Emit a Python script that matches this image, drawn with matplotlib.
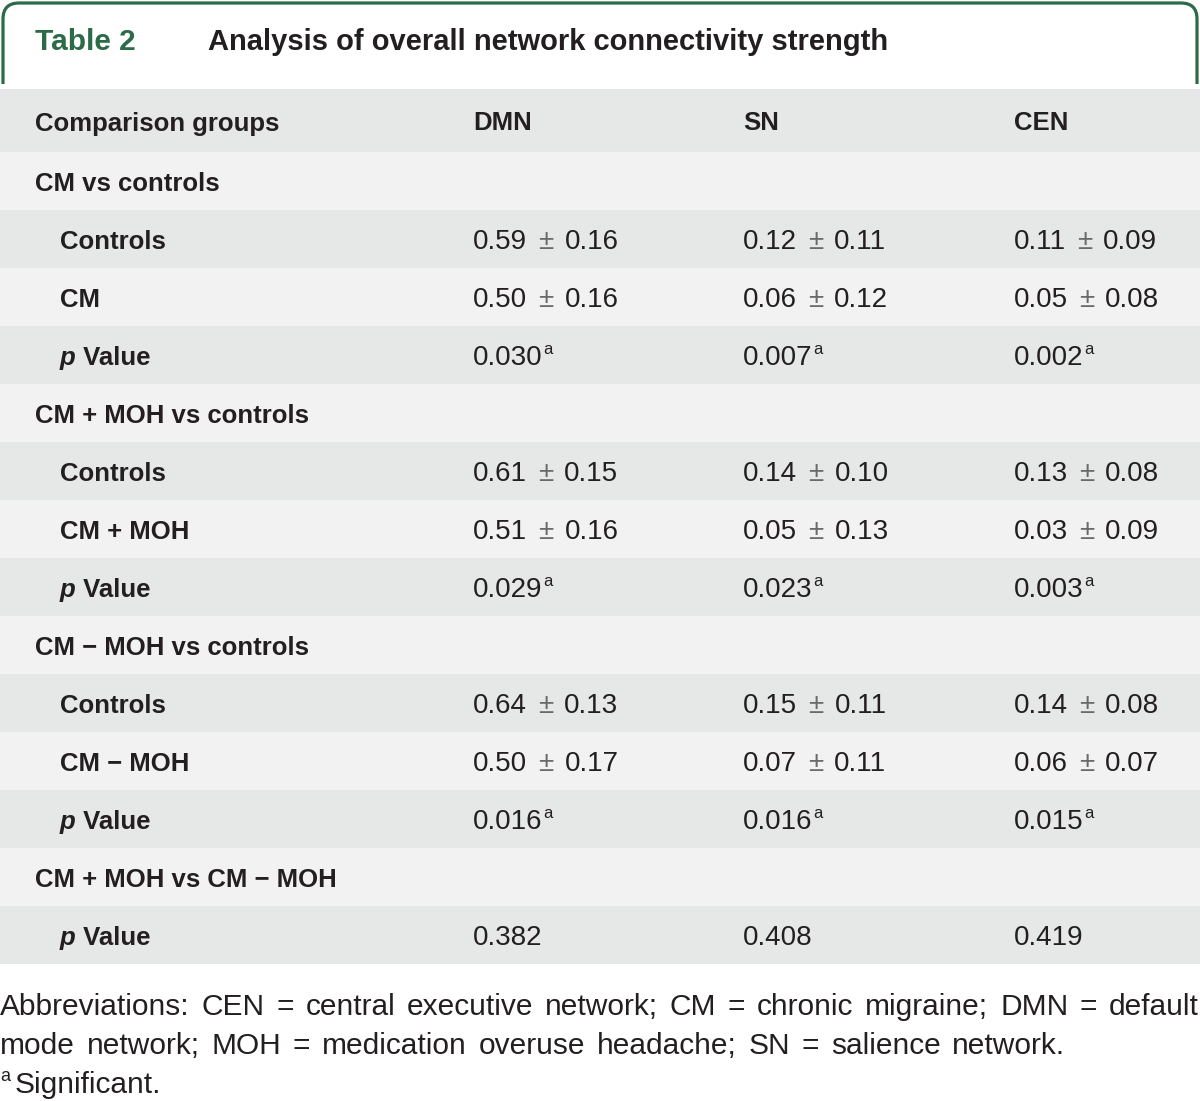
import matplotlib.pyplot as plt
from matplotlib.patches import FancyBboxPatch, Rectangle

# ---------------- data ----------------
title_num = "Table 2"
title_txt = "Analysis of overall network connectivity strength"
networks = ["DMN", "SN", "CEN"]

groups = ["CM vs controls", "CM + MOH vs controls", "CM \u2212 MOH vs controls", "CM + MOH vs CM \u2212 MOH"]
sub_labels = [["Controls", "CM", "p"],
              ["Controls", "CM + MOH", "p"],
              ["Controls", "CM \u2212 MOH", "p"],
              ["p"]]

controls_1 = [(0.59, 0.16), (0.12, 0.11), (0.11, 0.09)]
cm_1 = [(0.50, 0.16), (0.06, 0.12), (0.05, 0.08)]
p_1 = ["0.030", "0.007", "0.002"]

controls_2 = [(0.61, 0.15), (0.14, 0.10), (0.13, 0.08)]
cmmoh_2 = [(0.51, 0.16), (0.05, 0.13), (0.03, 0.09)]
p_2 = ["0.029", "0.023", "0.003"]

controls_3 = [(0.64, 0.13), (0.15, 0.11), (0.14, 0.08)]
cmnomoh_3 = [(0.50, 0.17), (0.07, 0.11), (0.06, 0.07)]
p_3 = ["0.016", "0.016", "0.015"]

p_4 = ["0.382", "0.408", "0.419"]

alpha = 0.05
footnote1 = "Abbreviations: CEN = central executive network; CM = chronic migraine; DMN = default"
footnote2 = "mode network; MOH = medication overuse headache; SN = salience network."
footnote3 = "Significant."

group_rows = [[controls_1, cm_1, p_1],
              [controls_2, cmmoh_2, p_2],
              [controls_3, cmnomoh_3, p_3],
              [p_4]]

# ---------------- style ----------------
W, H = 1200, 1101
green = "#2b6b47"
dark_band = "#e6e7e7"
light_band = "#f2f2f2"
txt = "#231f20"
fam = ["Liberation Sans", "DejaVu Sans"]
fs_lab = 18.5
fs_val = 20
fs_note = 21.5

fig = plt.figure(figsize=(W / 100, H / 100), dpi=100)
ax = fig.add_axes([0, 0, 1, 1])
ax.set_xlim(0, W)
ax.set_ylim(H, 0)
ax.axis("off")
renderer = fig.canvas.get_renderer()
inv = ax.transData.inverted()


def width_of(t):
    bb = t.get_window_extent(renderer=renderer)
    return inv.transform((bb.x1, 0))[0] - inv.transform((bb.x0, 0))[0]


def text_after(t, s, dx=0, dy=0, **kw):
    """place text s right after text artist t"""
    bb = t.get_window_extent(renderer=renderer)
    x1 = inv.transform((bb.x1, bb.y0))[0]
    return ax.text(x1 + dx, t.get_position()[1] + dy, s, **kw)


# tab border around title
tab = FancyBboxPatch((3, 3), W - 6, 150, boxstyle="round,pad=0,rounding_size=16",
                     fc="white", ec=green, lw=2.3, zorder=1)
ax.add_patch(tab)
ax.add_patch(Rectangle((0, 84), W, 200, fc="white", ec="none", zorder=2))
ax.text(35, 50, title_num, color=green, fontsize=21.5, fontweight="bold", family=fam,
        va="baseline", zorder=5)
ax.text(208, 50, title_txt, color=txt, fontsize=21, fontweight="bold", family=fam,
        va="baseline", zorder=5)

# rows
top = 89
header_h = 63
row_h = 58
col_x = [473, 743, 1014]
base_off = 10

ax.add_patch(Rectangle((0, top), W, header_h, fc=dark_band, ec="none", zorder=3))
yb = top + header_h / 2 + base_off
ax.text(35, yb, "Comparison groups", fontsize=fs_lab, fontweight="bold", family=fam,
        color=txt, va="baseline", zorder=5)
for x, n in zip(col_x, networks):
    ax.text(x, yb, n, fontsize=fs_lab, fontweight="bold", family=fam, color=txt,
            va="baseline", zorder=5)

y = top + header_h
band = 1
for g, labels, vals in zip(groups, sub_labels, group_rows):
    # group heading row
    ax.add_patch(Rectangle((0, y), W, row_h, fc=light_band if band % 2 else dark_band,
                           ec="none", zorder=3))
    ax.text(35, y + row_h / 2 + base_off, g, fontsize=fs_lab, fontweight="bold",
            family=fam, color=txt, va="baseline", zorder=5)
    y += row_h
    band += 1
    for lab, v in zip(labels, vals):
        ax.add_patch(Rectangle((0, y), W, row_h, fc=light_band if band % 2 else dark_band,
                               ec="none", zorder=3))
        yb = y + row_h / 2 + base_off
        if lab == "p":
            t = ax.text(60, yb, "p", fontsize=fs_lab, fontweight="bold", style="italic",
                        family=fam, color=txt, va="baseline", zorder=5)
            text_after(t, " Value", fontsize=fs_lab, fontweight="bold", family=fam,
                       color=txt, va="baseline", zorder=5)
            for x, pv in zip(col_x, v):
                t = ax.text(x, yb, pv, fontsize=fs_val, family=fam, color=txt,
                            va="baseline", zorder=5)
                if float(pv) < alpha:
                    text_after(t, "a", dx=1, dy=-11, fontsize=12, family=fam,
                               color=txt, va="baseline", zorder=5)
        else:
            ax.text(60, yb, lab, fontsize=fs_lab, fontweight="bold", family=fam,
                    color=txt, va="baseline", zorder=5)
            for x, (m, sd) in zip(col_x, v):
                t = ax.text(x, yb, f"{m:.2f}", fontsize=fs_val, family=fam, color=txt,
                            va="baseline", zorder=5)
                t2 = text_after(t, "\u00b1", dx=11, fontsize=fs_val, family=fam,
                                color="#6a6a6a", va="baseline", zorder=5)
                text_after(t2, f"{sd:.2f}", dx=11, fontsize=fs_val, family=fam,
                           color=txt, va="baseline", zorder=5)
        y += row_h
        band += 1

# footnotes: first line justified across the full width
words1 = footnote1.split(" ")
arts = [ax.text(0, 1015, w, fontsize=fs_note, family=fam, color=txt, va="baseline")
        for w in words1]
widths = [width_of(a) for a in arts]
gap = (W - 1 - sum(widths)) / (len(words1) - 1)
x = 0
for a, w in zip(arts, widths):
    a.set_x(x)
    x += w + gap

words2 = footnote2.split(" ")
x = 0
for w in words2:
    a = ax.text(x, 1054, w, fontsize=fs_note, family=fam, color=txt, va="baseline")
    x += width_of(a) + gap

ta = ax.text(0, 1081, "a", fontsize=13, family=fam, color=txt, va="baseline")
text_after(ta, footnote3, dx=5, dy=12, fontsize=fs_note, family=fam, color=txt,
           va="baseline")

fig.savefig("out.png", dpi=100)
